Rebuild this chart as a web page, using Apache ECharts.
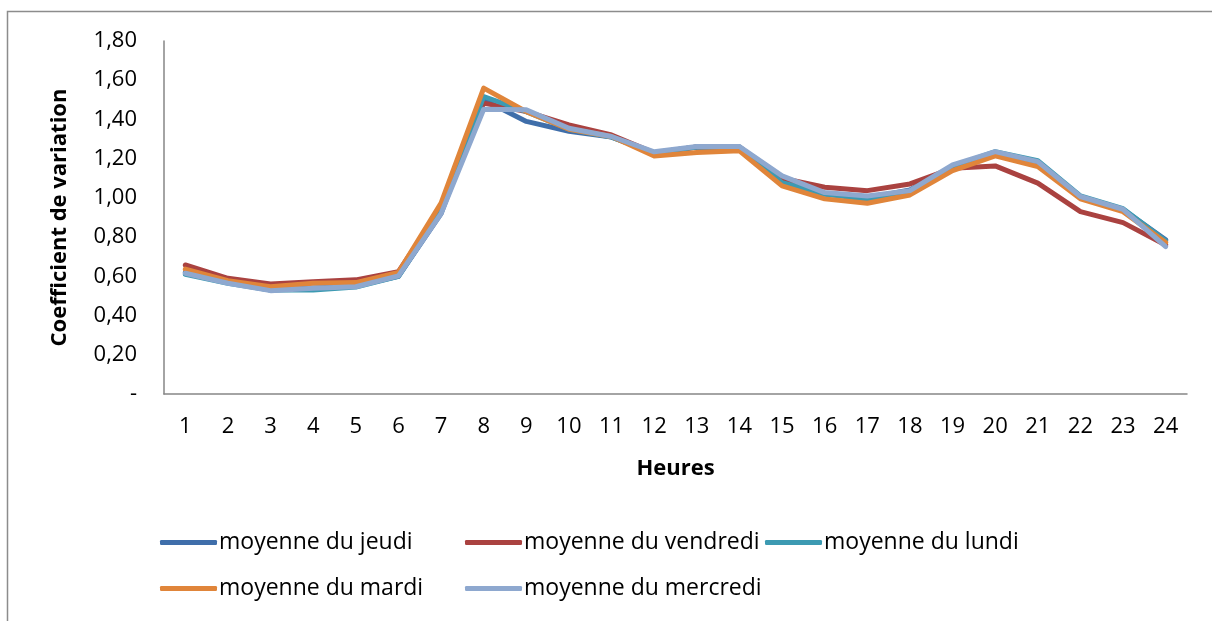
<!DOCTYPE html>
<html>
<head>
<meta charset="utf-8">
<script src="https://cdn.jsdelivr.net/npm/echarts@6/dist/echarts.min.js"></script>
<style>html,body{margin:0;padding:0;background:#fff;}#c{width:1212px;height:621px;}</style>
</head>
<body>
<div id="c"></div>
<script>
const hours = ['1','2','3','4','5','6','7','8','9','10','11','12','13','14','15','16','17','18','19','20','21','22','23','24'];
const seriesNames = ['moyenne du jeudi','moyenne du vendredi','moyenne du lundi','moyenne du mardi','moyenne du mercredi'];
const jeudi    = [0.62,0.57,0.53,0.54,0.55,0.60,0.92,1.50,1.39,1.34,1.31,1.23,1.26,1.26,1.08,1.02,1.00,1.04,1.16,1.23,1.18,1.00,0.94,0.786];
const vendredi = [0.658,0.59,0.561,0.573,0.582,0.624,0.95,1.483,1.44,1.372,1.321,1.23,1.26,1.26,1.10,1.054,1.037,1.071,1.151,1.163,1.075,0.93,0.874,0.76];
const lundi    = [0.61,0.565,0.53,0.53,0.545,0.60,0.93,1.517,1.44,1.35,1.31,1.23,1.26,1.26,1.078,1.02,0.993,1.03,1.16,1.236,1.19,1.01,0.945,0.78];
const mardi    = [0.637,0.578,0.547,0.565,0.568,0.62,0.973,1.56,1.44,1.35,1.313,1.214,1.232,1.24,1.061,0.995,0.973,1.015,1.139,1.214,1.16,0.995,0.93,0.772];
const mercredi = [0.616,0.565,0.527,0.539,0.547,0.602,0.92,1.452,1.449,1.355,1.313,1.235,1.262,1.262,1.112,1.027,1.01,1.037,1.168,1.236,1.185,1.007,0.942,0.751];
const yTicks = {min:0, max:1.8, interval:0.2};

const colors = ['#3F6EAA','#AA4240','#3C9AB2','#E0853A','#8EA8CF'];
const allData = [jeudi, vendredi, lundi, mardi, mercredi];
const font = '"Open Sans", "Noto Sans", sans-serif';
const fs = 22;

const legendPos = [
  {left:160, top:531},
  {left:465, top:531},
  {left:765, top:531},
  {left:160, top:577},
  {left:465, top:577}
];

const chart = echarts.init(document.getElementById('c'), null, {renderer:'canvas'});
chart.setOption({
  animation:false,
  backgroundColor:'#ffffff',
  graphic:[{type:'rect', shape:{x:7.5, y:11.5, width:1230, height:640}, style:{fill:'none', stroke:'#8c8c8c', lineWidth:1.5}, silent:true, z:-1}],
  grid:{left:164, top:41, right:25, bottom:227},
  legend: seriesNames.map((n,i)=>({
    data:[n], left:legendPos[i].left, top:legendPos[i].top,
    itemWidth:57, itemHeight:5, itemGap:0, padding:0,
    icon:'roundRect',
    textStyle:{fontFamily:font, fontSize:23, color:'#000', padding:[0,0,0,-3]}
  })),
  xAxis:{
    type:'category', data:hours, boundaryGap:true,
    axisLine:{lineStyle:{color:'#868686', width:1.5}},
    axisTick:{show:false},
    axisLabel:{color:'#000', fontFamily:font, fontSize:fs, margin:22},
    name:'Heures', nameLocation:'middle', nameGap:64,
    nameTextStyle:{color:'#000', fontFamily:font, fontSize:fs, fontWeight:'bold'}
  },
  yAxis:{
    type:'value', min:yTicks.min, max:yTicks.max, interval:yTicks.interval,
    axisLine:{show:true, lineStyle:{color:'#868686', width:1.5}},
    axisTick:{show:false},
    splitLine:{show:false},
    axisLabel:{color:'#000', fontFamily:font, fontSize:fs, margin:27,
      formatter:v=> Math.abs(v)<1e-9 ? '-' : v.toFixed(2).replace('.',',')},
    name:'Coefficient de variation', nameLocation:'middle', nameGap:93, nameRotate:90,
    nameTextStyle:{color:'#000', fontFamily:font, fontSize:fs, fontWeight:'bold'}
  },
  series: seriesNames.map((n,i)=>({
    name:n, type:'line', data:allData[i], symbol:'none', smooth:false,
    lineStyle:{color:colors[i], width:5, cap:'round', join:'round'},
    itemStyle:{color:colors[i]}
  }))
});
</script>
</body>
</html>
